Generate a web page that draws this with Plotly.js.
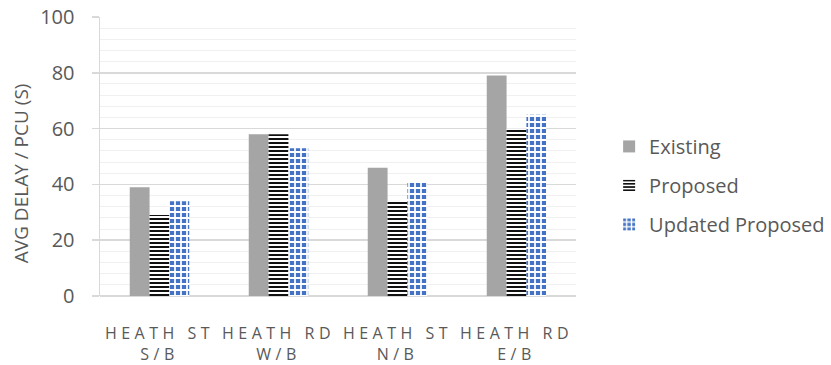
<!DOCTYPE html>
<html>
<head>
<meta charset="utf-8">
<script src="https://cdn.plot.ly/plotly-3.0.1.min.js"></script>
<style>
html,body{margin:0;padding:0;background:#fff;}
#chart{width:831px;height:365px;}
.xtick text{letter-spacing:4.5px;}
</style>
</head>
<body>
<div id="chart"></div>
<script>
const categories = ["HEATH ST<br>S/B", "HEATH RD<br>W/B", "HEATH ST<br>N/B", "HEATH RD<br>E/B"];
const seriesNames = ["Existing", "Proposed", "Updated Proposed"];
const existing = [39, 58, 46, 79];
const proposed = [29, 58, 34, 60];
const updatedProposed = [34, 53, 41, 65];
const yTicks = [0, 20, 40, 60, 80, 100];
const yTitle = "AVG DELAY / PCU (S)";

const font = "Open Sans, sans-serif";
const traces = [
  {type: "bar", name: seriesNames[0], legendgroup: "a", x: categories, y: existing,
   marker: {color: "#A5A5A5", line: {width: 0}}},
  {type: "bar", name: seriesNames[1], legendgroup: "b", x: categories, y: proposed,
   marker: {color: "#ffffff", line: {width: 0},
            pattern: {shape: "-", fgcolor: "#111111", bgcolor: "#ffffff", size: 4, solidity: 0.5}}},
  {type: "bar", name: seriesNames[2], legendgroup: "c", x: categories, y: updatedProposed,
   marker: {color: "#4472C4", line: {width: 0},
            pattern: {shape: "+", fgcolor: "#ffffff", bgcolor: "#4472C4", size: 6, solidity: 0.5}}}
];

const layout = {
  width: 831, height: 365,
  margin: {l: 100, r: 255, t: 17, b: 69},
  paper_bgcolor: "#ffffff", plot_bgcolor: "#ffffff",
  barmode: "group", bargap: 0.5, bargroupgap: 0,
  font: {family: font, color: "#595959"},
  showlegend: true,
  legend: {xref: "container", yref: "container", x: 0.733, y: 0.492, yanchor: "middle", xanchor: "left",
           font: {size: 20, color: "#595959", family: font},
           tracegroupgap: 10, itemwidth: 30},
  xaxis: {type: "category", tickfont: {size: 16, color: "#595959", family: font},
          showgrid: false, zeroline: false, showline: false, ticks: "",
          ticklabelstandoff: 26},
  yaxis: {range: [0, 100], tickvals: yTicks, ticktext: yTicks.map(String),
          tickfont: {size: 20, color: "#595959", family: font},
          showgrid: true, gridcolor: "#D9D9D9", gridwidth: 1.5,
          minor: {dtick: 4, showgrid: true, gridcolor: "#F0F0F0", gridwidth: 1},
          zeroline: true, zerolinecolor: "#D9D9D9", zerolinewidth: 1.5,
          showline: true, linecolor: "#D9D9D9", linewidth: 1.5,
          ticks: "outside", ticklen: 7, tickcolor: "#D9D9D9", tickwidth: 1.5,
          ticklabelstandoff: 13},
  annotations: [{text: yTitle, textangle: -90, xref: "paper", yref: "paper",
                 x: -0.166, y: 0.44, xanchor: "center", yanchor: "middle", showarrow: false,
                 font: {size: 19, color: "#595959", family: font}}]
};

Plotly.newPlot("chart", traces, layout, {displayModeBar: false, staticPlot: true});
</script>
</body>
</html>
